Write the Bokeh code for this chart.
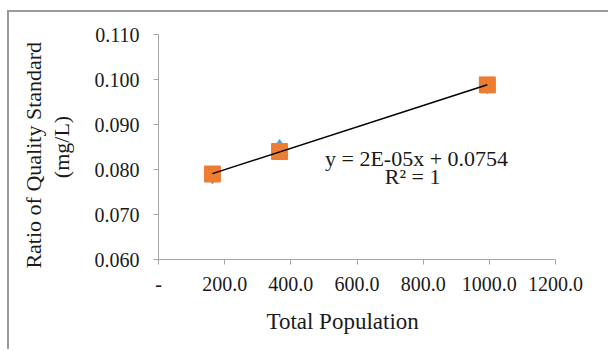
import numpy as np
from bokeh.plotting import figure
from bokeh.models import Range1d, FixedTicker, Label
from bokeh.embed import file_html
from bokeh.resources import INLINE

population = [163, 366, 994]
ratio_blue = [0.0785, 0.0850, 0.0985]
ratio_orange = [0.0790, 0.0840, 0.0988]
x_ticks = [0, 200, 400, 600, 800, 1000, 1200]
x_tick_labels = ["-", "200.0", "400.0", "600.0", "800.0", "1000.0", "1200.0"]
y_ticks = [0.060, 0.070, 0.080, 0.090, 0.100, 0.110]
y_tick_labels = ["0.060", "0.070", "0.080", "0.090", "0.100", "0.110"]
y_title = "Ratio of Quality Standard\n(mg/L)"
x_title = "Total Population"
equation = "y = 2E-05x + 0.0754"
r2 = "R² = 1"

FONT = "Liberation Serif"
TXT = "#1a1a1a"
NBSP = "\u00a0"

p = figure(width=601, height=339, output_backend="svg", toolbar_location=None,
           x_range=Range1d(0, 1200), y_range=Range1d(0.060, 0.110),
           min_border_left=149, min_border_right=55, min_border_top=22, min_border_bottom=92)
p.margin = (10, 0, 0, 7)
p.styles = {"border-left": "2px solid #9a9a9a", "border-top": "2px solid #9a9a9a"}
p.outline_line_color = None
p.grid.visible = False
p.background_fill_color = "white"
p.border_fill_color = "white"

for ax in (p.xaxis[0], p.yaxis[0]):
    ax.axis_line_color = "#a6a6a6"
    ax.major_tick_line_color = "#a6a6a6"
    ax.minor_tick_line_color = None
    ax.major_tick_in = 0
    ax.major_tick_out = 5
    ax.major_label_text_font = FONT
    ax.major_label_text_font_size = "20px"
    ax.major_label_text_color = TXT
    ax.axis_label_text_font = FONT
    ax.axis_label_text_font_style = "normal"
    ax.axis_label_text_color = TXT

p.xaxis.ticker = FixedTicker(ticks=x_ticks)
p.xaxis.major_label_overrides = {t: l for t, l in zip(x_ticks, x_tick_labels)}
p.yaxis.ticker = FixedTicker(ticks=y_ticks)
p.yaxis.major_label_overrides = {t: l for t, l in zip(y_ticks, y_tick_labels)}

# trailing non-breaking spaces nudge the titles to where the reference places them
p.xaxis.axis_label = x_title + NBSP * 5
p.xaxis.axis_label_text_font_size = "23px"
p.xaxis.major_label_standoff = 12
p.xaxis.axis_label_standoff = 15

lines = y_title.split("\n")
p.yaxis.axis_label = lines[0] + NBSP * 3 + "\n" + lines[1]
p.yaxis.axis_label_text_font_size = "22px"
p.yaxis.axis_label_text_line_height = 1.1
p.yaxis.major_label_standoff = 14
p.yaxis.axis_label_standoff = 18

p.scatter(population, ratio_blue, marker="diamond", size=15, color="#5B9BD5")
p.scatter(population, ratio_orange, marker="square", size=16, color="#ED7D31")

coef = np.polyfit(population, ratio_orange, 1)
xs = np.array([min(population), max(population)])
p.line(xs, np.polyval(coef, xs), line_color="black", line_width=1.5)

p.add_layout(Label(x=780, y=0.0824, text=equation, text_font=FONT, text_font_size="22px",
                   text_align="center", text_baseline="middle", text_color=TXT))
p.add_layout(Label(x=768, y=0.0784, text=r2, text_font=FONT, text_font_size="22px",
                   text_align="center", text_baseline="middle", text_color=TXT))

open("out.html", "w").write(file_html(p, INLINE))
